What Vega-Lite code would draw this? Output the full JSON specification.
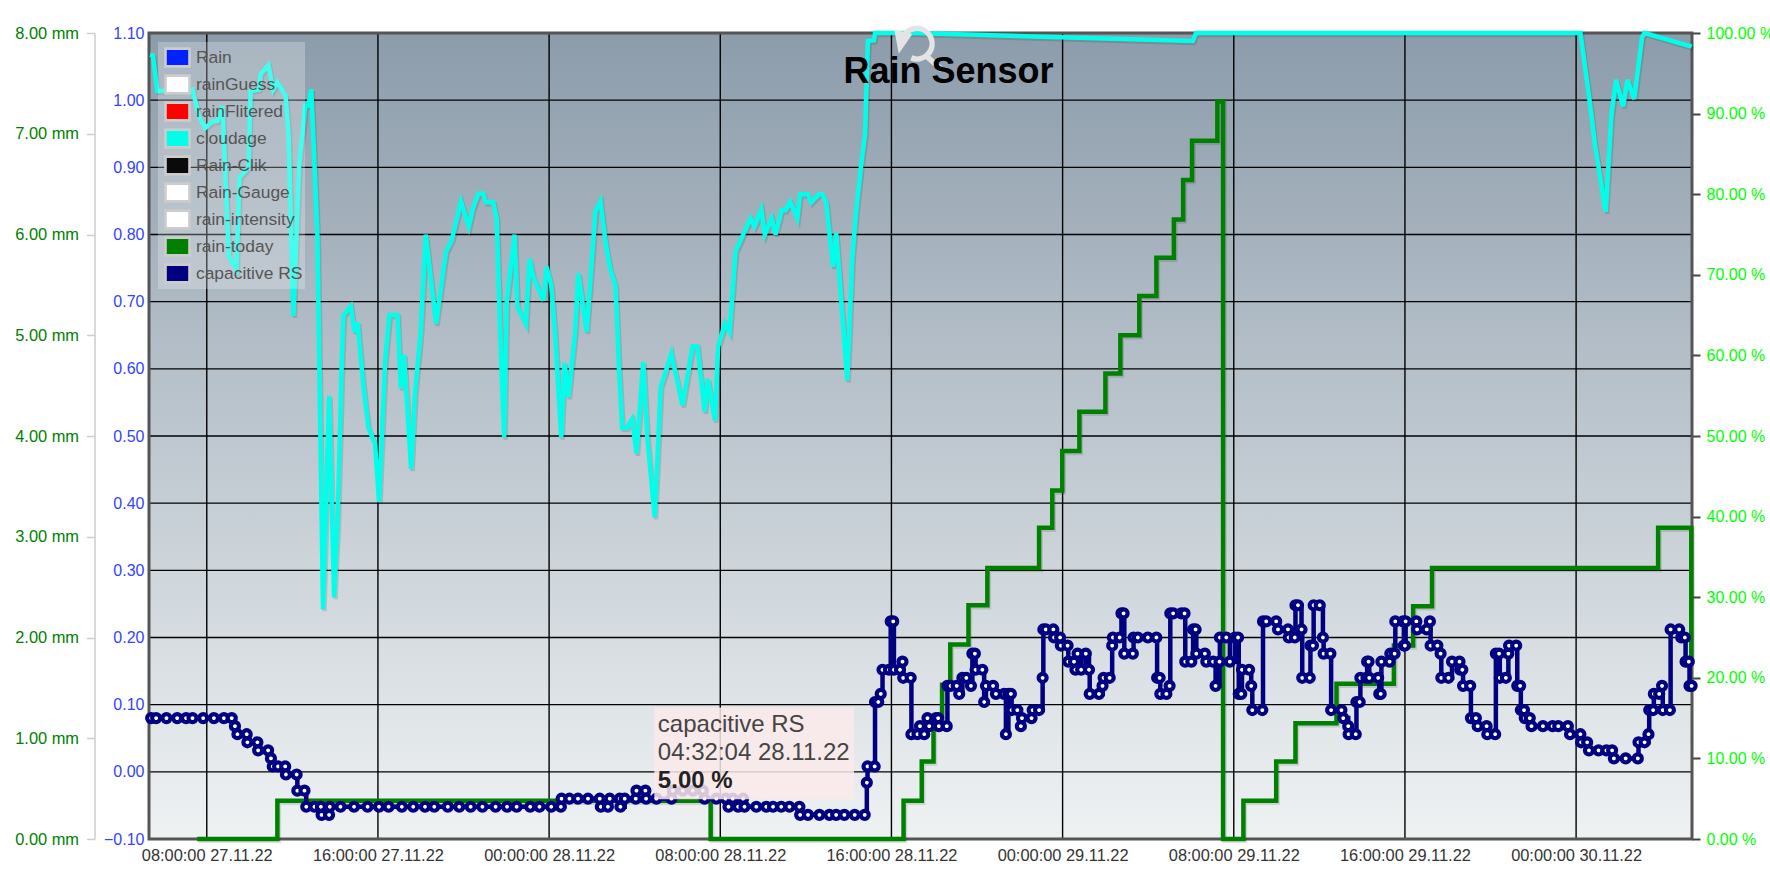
{"$schema":"https://vega.github.io/schema/vega-lite/v6.json","width":1543,"height":806,"autosize":{"type":"none"},"padding":{"left":149,"top":33,"right":78,"bottom":47},"background":"#ffffff","title":{"text":"Rain Sensor","fontSize":36,"font":"Liberation Sans","fontWeight":"bold","color":"#000000","anchor":"middle","offset":-102,"dx":28,"baseline":"alphabetic"},"config":{"font":"Liberation Sans","view":{"stroke":null}},"datasets":{
"plot":[{"t":"2022-11-27T05:18:00Z","t2":"2022-11-30T05:25:00Z","v":0,"v2":100}],
"gridx":[{"t":"2022-11-27T08:00:00Z"},{"t":"2022-11-27T16:00:00Z"},{"t":"2022-11-28T00:00:00Z"},{"t":"2022-11-28T08:00:00Z"},{"t":"2022-11-28T16:00:00Z"},{"t":"2022-11-29T00:00:00Z"},{"t":"2022-11-29T08:00:00Z"},{"t":"2022-11-29T16:00:00Z"},{"t":"2022-11-30T00:00:00Z"}],
"gridy":[{"v":0},{"v":0.1},{"v":0.2},{"v":0.3},{"v":0.4},{"v":0.5},{"v":0.6},{"v":0.7},{"v":0.8},{"v":0.9},{"v":1}],
"series":[{"t":"2022-11-27T08:00:00Z","series":"Rain"},{"t":"2022-11-27T08:00:00Z","series":"rainGuess"},{"t":"2022-11-27T08:00:00Z","series":"rainFlitered"},{"t":"2022-11-27T08:00:00Z","series":"cloudage"},{"t":"2022-11-27T08:00:00Z","series":"Rain-Clik"},{"t":"2022-11-27T08:00:00Z","series":"Rain-Gauge"},{"t":"2022-11-27T08:00:00Z","series":"rain-intensity"},{"t":"2022-11-27T08:00:00Z","series":"rain-today"},{"t":"2022-11-27T08:00:00Z","series":"capacitive RS"}],
"cloudage":[{"t":"2022-11-27T05:21Z","v":97.3},{"t":"2022-11-27T05:29Z","v":97.2},{"t":"2022-11-27T05:41Z","v":92.8},{"t":"2022-11-27T06:00Z","v":92.8},{"t":"2022-11-27T06:51Z","v":92.8},{"t":"2022-11-27T07:20Z","v":93},{"t":"2022-11-27T07:38Z","v":89.7},{"t":"2022-11-27T07:55Z","v":88.2},{"t":"2022-11-27T08:16Z","v":89},{"t":"2022-11-27T08:30Z","v":89.1},{"t":"2022-11-27T08:44Z","v":90.9},{"t":"2022-11-27T08:51Z","v":83.5},{"t":"2022-11-27T09:02Z","v":72.3},{"t":"2022-11-27T09:23Z","v":70.7},{"t":"2022-11-27T09:32Z","v":82.1},{"t":"2022-11-27T09:57Z","v":83.3},{"t":"2022-11-27T10:03Z","v":92.8},{"t":"2022-11-27T10:27Z","v":93},{"t":"2022-11-27T10:31Z","v":94.9},{"t":"2022-11-27T10:53Z","v":96},{"t":"2022-11-27T11:06Z","v":93},{"t":"2022-11-27T11:18Z","v":93.9},{"t":"2022-11-27T11:41Z","v":92.2},{"t":"2022-11-27T11:49Z","v":87.7},{"t":"2022-11-27T12:03Z","v":64.9},{"t":"2022-11-27T12:19Z","v":83.5},{"t":"2022-11-27T12:36Z","v":91},{"t":"2022-11-27T12:45Z","v":91},{"t":"2022-11-27T12:53Z","v":93},{"t":"2022-11-27T13:10Z","v":75.2},{"t":"2022-11-27T13:26Z","v":28.5},{"t":"2022-11-27T13:43Z","v":55},{"t":"2022-11-27T13:57Z","v":30},{"t":"2022-11-27T14:07Z","v":39.7},{"t":"2022-11-27T14:18Z","v":58.3},{"t":"2022-11-27T14:23Z","v":65},{"t":"2022-11-27T14:44Z","v":66.1},{"t":"2022-11-27T14:54Z","v":62.9},{"t":"2022-11-27T15:03Z","v":64.1},{"t":"2022-11-27T15:19Z","v":56.3},{"t":"2022-11-27T15:33Z","v":51.1},{"t":"2022-11-27T15:52Z","v":49},{"t":"2022-11-27T16:03Z","v":41.8},{"t":"2022-11-27T16:20Z","v":59.2},{"t":"2022-11-27T16:32Z","v":65},{"t":"2022-11-27T16:55Z","v":65},{"t":"2022-11-27T17:04Z","v":55.9},{"t":"2022-11-27T17:13Z","v":60.1},{"t":"2022-11-27T17:33Z","v":45.9},{"t":"2022-11-27T17:44Z","v":55.4},{"t":"2022-11-27T18:00Z","v":62.9},{"t":"2022-11-27T18:14Z","v":75},{"t":"2022-11-27T18:43Z","v":63.9},{"t":"2022-11-27T18:59Z","v":69.1},{"t":"2022-11-27T19:11Z","v":72.9},{"t":"2022-11-27T19:27Z","v":74.3},{"t":"2022-11-27T19:53Z","v":79.1},{"t":"2022-11-27T20:15Z","v":76},{"t":"2022-11-27T20:26Z","v":78.2},{"t":"2022-11-27T20:42Z","v":80.1},{"t":"2022-11-27T20:55Z","v":80.1},{"t":"2022-11-27T21:03Z","v":79},{"t":"2022-11-27T21:23Z","v":79},{"t":"2022-11-27T21:33Z","v":77},{"t":"2022-11-27T21:43Z","v":62.5},{"t":"2022-11-27T21:54Z","v":49.8},{"t":"2022-11-27T22:01Z","v":66.6},{"t":"2022-11-27T22:23Z","v":75},{"t":"2022-11-27T22:31Z","v":66},{"t":"2022-11-27T22:55Z","v":63.9},{"t":"2022-11-27T23:05Z","v":72},{"t":"2022-11-27T23:16Z","v":69.7},{"t":"2022-11-27T23:44Z","v":66.8},{"t":"2022-11-27T23:53Z","v":71},{"t":"2022-11-28T00:06Z","v":68.7},{"t":"2022-11-28T00:17Z","v":62.5},{"t":"2022-11-28T00:34Z","v":49.8},{"t":"2022-11-28T00:43Z","v":59.1},{"t":"2022-11-28T00:54Z","v":54.8},{"t":"2022-11-28T01:13Z","v":62.9},{"t":"2022-11-28T01:22Z","v":70.2},{"t":"2022-11-28T01:45Z","v":62.9},{"t":"2022-11-28T02:10Z","v":77.9},{"t":"2022-11-28T02:24Z","v":79.1},{"t":"2022-11-28T02:38Z","v":74.1},{"t":"2022-11-28T02:51Z","v":70.8},{"t":"2022-11-28T03:06Z","v":68.7},{"t":"2022-11-28T03:16Z","v":58.4},{"t":"2022-11-28T03:25Z","v":51},{"t":"2022-11-28T03:37Z","v":51},{"t":"2022-11-28T03:53Z","v":52.1},{"t":"2022-11-28T04:05Z","v":47.8},{"t":"2022-11-28T04:24Z","v":59.2},{"t":"2022-11-28T04:35Z","v":50.1},{"t":"2022-11-28T04:56Z","v":39.9},{"t":"2022-11-28T05:13Z","v":56.1},{"t":"2022-11-28T05:43Z","v":60.2},{"t":"2022-11-28T06:14Z","v":53.8},{"t":"2022-11-28T06:42Z","v":61.1},{"t":"2022-11-28T06:56Z","v":61.1},{"t":"2022-11-28T07:16Z","v":53},{"t":"2022-11-28T07:25Z","v":57.1},{"t":"2022-11-28T07:45Z","v":51.9},{"t":"2022-11-28T07:54Z","v":61.1},{"t":"2022-11-28T08:13Z","v":64},{"t":"2022-11-28T08:26Z","v":62.9},{"t":"2022-11-28T08:43Z","v":72.9},{"t":"2022-11-28T09:25Z","v":77},{"t":"2022-11-28T09:36Z","v":76},{"t":"2022-11-28T09:55Z","v":78.1},{"t":"2022-11-28T10:05Z","v":75},{"t":"2022-11-28T10:24Z","v":77},{"t":"2022-11-28T10:35Z","v":75},{"t":"2022-11-28T10:52Z","v":78},{"t":"2022-11-28T11:03Z","v":78},{"t":"2022-11-28T11:16Z","v":79.1},{"t":"2022-11-28T11:36Z","v":77},{"t":"2022-11-28T11:44Z","v":80},{"t":"2022-11-28T12:06Z","v":80},{"t":"2022-11-28T12:15Z","v":79},{"t":"2022-11-28T12:37Z","v":80},{"t":"2022-11-28T12:46Z","v":80},{"t":"2022-11-28T12:57Z","v":79},{"t":"2022-11-28T13:16Z","v":71},{"t":"2022-11-28T13:25Z","v":75.2},{"t":"2022-11-28T13:56Z","v":56.9},{"t":"2022-11-28T14:10Z","v":72},{"t":"2022-11-28T14:22Z","v":78.3},{"t":"2022-11-28T14:36Z","v":84},{"t":"2022-11-28T14:46Z","v":87.4},{"t":"2022-11-28T14:54Z","v":99},{"t":"2022-11-28T15:11Z","v":99.1},{"t":"2022-11-28T15:14Z","v":100},{"t":"2022-11-28T17:06Z","v":100},{"t":"2022-11-29T06:05Z","v":99},{"t":"2022-11-29T06:14Z","v":100},{"t":"2022-11-30T00:12Z","v":100},{"t":"2022-11-30T00:37Z","v":91.9},{"t":"2022-11-30T00:53Z","v":86.1},{"t":"2022-11-30T01:23Z","v":77.8},{"t":"2022-11-30T01:39Z","v":89.8},{"t":"2022-11-30T01:52Z","v":94.2},{"t":"2022-11-30T02:12Z","v":90.9},{"t":"2022-11-30T02:24Z","v":94.2},{"t":"2022-11-30T02:43Z","v":91.8},{"t":"2022-11-30T03:05Z","v":99.5},{"t":"2022-11-30T03:12Z","v":100},{"t":"2022-11-30T05:24Z","v":98.3}],
"today":[{"t":"2022-11-27T07:33Z","v":0},{"t":"2022-11-27T11:18Z","v":0.38},{"t":"2022-11-28T07:33Z","v":0},{"t":"2022-11-28T16:34Z","v":0.38},{"t":"2022-11-28T17:25Z","v":0.77},{"t":"2022-11-28T17:58Z","v":1.14},{"t":"2022-11-28T18:22Z","v":1.53},{"t":"2022-11-28T18:45Z","v":1.93},{"t":"2022-11-28T19:36Z","v":2.32},{"t":"2022-11-28T20:29Z","v":2.69},{"t":"2022-11-28T22:54Z","v":3.09},{"t":"2022-11-28T23:31Z","v":3.46},{"t":"2022-11-28T23:59Z","v":3.85},{"t":"2022-11-29T00:47Z","v":4.24},{"t":"2022-11-29T02:00Z","v":4.62},{"t":"2022-11-29T02:42Z","v":5},{"t":"2022-11-29T03:35Z","v":5.39},{"t":"2022-11-29T04:23Z","v":5.77},{"t":"2022-11-29T05:12Z","v":6.15},{"t":"2022-11-29T05:38Z","v":6.54},{"t":"2022-11-29T06:03Z","v":6.93},{"t":"2022-11-29T07:14Z","v":7.32},{"t":"2022-11-29T07:30Z","v":0},{"t":"2022-11-29T08:27Z","v":0.38},{"t":"2022-11-29T09:59Z","v":0.77},{"t":"2022-11-29T10:53Z","v":1.15},{"t":"2022-11-29T12:48Z","v":1.54},{"t":"2022-11-29T15:29Z","v":1.92},{"t":"2022-11-29T16:23Z","v":2.31},{"t":"2022-11-29T17:16Z","v":2.69},{"t":"2022-11-30T03:50Z","v":3.09},{"t":"2022-11-30T05:23Z","v":1.8}],
"cap":[{"t":"2022-11-27T05:24Z","v":15},{"t":"2022-11-27T05:38Z","v":15},{"t":"2022-11-27T06:07Z","v":15},{"t":"2022-11-27T06:37Z","v":15},{"t":"2022-11-27T07:02Z","v":15},{"t":"2022-11-27T07:20Z","v":15},{"t":"2022-11-27T07:50Z","v":15},{"t":"2022-11-27T08:20Z","v":15},{"t":"2022-11-27T08:48Z","v":15},{"t":"2022-11-27T09:10Z","v":15},{"t":"2022-11-27T09:19Z","v":14},{"t":"2022-11-27T09:26Z","v":13},{"t":"2022-11-27T09:52Z","v":13},{"t":"2022-11-27T09:54Z","v":12},{"t":"2022-11-27T10:22Z","v":12},{"t":"2022-11-27T10:24Z","v":11},{"t":"2022-11-27T10:52Z","v":11},{"t":"2022-11-27T11:00Z","v":10},{"t":"2022-11-27T11:05Z","v":9},{"t":"2022-11-27T11:20Z","v":9},{"t":"2022-11-27T11:40Z","v":9},{"t":"2022-11-27T11:42Z","v":8},{"t":"2022-11-27T12:12Z","v":8},{"t":"2022-11-27T12:14Z","v":6},{"t":"2022-11-27T12:34Z","v":6},{"t":"2022-11-27T12:39Z","v":4},{"t":"2022-11-27T13:02Z","v":4},{"t":"2022-11-27T13:20Z","v":4},{"t":"2022-11-27T13:22Z","v":3},{"t":"2022-11-27T13:43Z","v":3},{"t":"2022-11-27T13:45Z","v":4},{"t":"2022-11-27T14:15Z","v":4},{"t":"2022-11-27T14:53Z","v":4},{"t":"2022-11-27T15:31Z","v":4},{"t":"2022-11-27T16:03Z","v":4},{"t":"2022-11-27T16:30Z","v":4},{"t":"2022-11-27T17:07Z","v":4},{"t":"2022-11-27T17:39Z","v":4},{"t":"2022-11-27T18:12Z","v":4},{"t":"2022-11-27T18:38Z","v":4},{"t":"2022-11-27T19:16Z","v":4},{"t":"2022-11-27T19:48Z","v":4},{"t":"2022-11-27T20:20Z","v":4},{"t":"2022-11-27T20:53Z","v":4},{"t":"2022-11-27T21:30Z","v":4},{"t":"2022-11-27T22:02Z","v":4},{"t":"2022-11-27T22:29Z","v":4},{"t":"2022-11-27T23:07Z","v":4},{"t":"2022-11-27T23:33Z","v":4},{"t":"2022-11-28T00:06Z","v":4},{"t":"2022-11-28T00:33Z","v":4},{"t":"2022-11-28T00:35Z","v":5},{"t":"2022-11-28T00:57Z","v":5},{"t":"2022-11-28T01:21Z","v":5},{"t":"2022-11-28T01:49Z","v":5},{"t":"2022-11-28T02:22Z","v":5},{"t":"2022-11-28T02:25Z","v":4},{"t":"2022-11-28T02:45Z","v":4},{"t":"2022-11-28T02:50Z","v":5},{"t":"2022-11-28T03:18Z","v":5},{"t":"2022-11-28T03:20Z","v":4},{"t":"2022-11-28T03:32Z","v":5},{"t":"2022-11-28T04:03Z","v":5},{"t":"2022-11-28T04:05Z","v":6},{"t":"2022-11-28T04:30Z","v":6},{"t":"2022-11-28T04:32Z","v":5},{"t":"2022-11-28T05:01Z","v":5},{"t":"2022-11-28T05:43Z","v":5},{"t":"2022-11-28T05:47Z","v":6},{"t":"2022-11-28T06:15Z","v":6},{"t":"2022-11-28T06:43Z","v":6},{"t":"2022-11-28T07:11Z","v":6},{"t":"2022-11-28T07:16Z","v":5},{"t":"2022-11-28T07:49Z","v":5},{"t":"2022-11-28T08:15Z","v":5},{"t":"2022-11-28T08:23Z","v":4},{"t":"2022-11-28T08:35Z","v":5},{"t":"2022-11-28T08:50Z","v":4},{"t":"2022-11-28T09:04Z","v":5},{"t":"2022-11-28T09:08Z","v":4},{"t":"2022-11-28T09:41Z","v":4},{"t":"2022-11-28T10:09Z","v":4},{"t":"2022-11-28T10:28Z","v":4},{"t":"2022-11-28T10:51Z","v":4},{"t":"2022-11-28T11:14Z","v":4},{"t":"2022-11-28T11:42Z","v":4},{"t":"2022-11-28T11:44Z","v":3},{"t":"2022-11-28T12:06Z","v":3},{"t":"2022-11-28T12:38Z","v":3},{"t":"2022-11-28T13:06Z","v":3},{"t":"2022-11-28T13:25Z","v":3},{"t":"2022-11-28T13:48Z","v":3},{"t":"2022-11-28T14:17Z","v":3},{"t":"2022-11-28T14:45Z","v":3},{"t":"2022-11-28T14:51Z","v":7},{"t":"2022-11-28T14:53Z","v":9},{"t":"2022-11-28T15:13Z","v":9},{"t":"2022-11-28T15:14Z","v":17},{"t":"2022-11-28T15:23Z","v":17},{"t":"2022-11-28T15:30Z","v":18},{"t":"2022-11-28T15:35Z","v":21},{"t":"2022-11-28T15:53Z","v":21},{"t":"2022-11-28T15:58Z","v":27},{"t":"2022-11-28T16:05Z","v":27},{"t":"2022-11-28T16:07Z","v":21},{"t":"2022-11-28T16:24Z","v":21},{"t":"2022-11-28T16:31Z","v":22},{"t":"2022-11-28T16:33Z","v":20},{"t":"2022-11-28T16:54Z","v":20},{"t":"2022-11-28T16:56Z","v":13},{"t":"2022-11-28T17:13Z","v":13},{"t":"2022-11-28T17:20Z","v":14},{"t":"2022-11-28T17:32Z","v":13},{"t":"2022-11-28T17:41Z","v":15},{"t":"2022-11-28T17:46Z","v":14},{"t":"2022-11-28T18:05Z","v":15},{"t":"2022-11-28T18:11Z","v":15},{"t":"2022-11-28T18:13Z","v":14},{"t":"2022-11-28T18:35Z","v":14},{"t":"2022-11-28T18:37Z","v":19},{"t":"2022-11-28T18:46Z","v":19},{"t":"2022-11-28T19:03Z","v":19},{"t":"2022-11-28T19:10Z","v":18},{"t":"2022-11-28T19:19Z","v":20},{"t":"2022-11-28T19:30Z","v":20},{"t":"2022-11-28T19:43Z","v":19},{"t":"2022-11-28T19:47Z","v":23},{"t":"2022-11-28T19:54Z","v":23},{"t":"2022-11-28T19:56Z","v":21},{"t":"2022-11-28T20:15Z","v":21},{"t":"2022-11-28T20:20Z","v":17},{"t":"2022-11-28T20:25Z","v":19},{"t":"2022-11-28T20:45Z","v":19},{"t":"2022-11-28T20:53Z","v":18},{"t":"2022-11-28T21:16Z","v":18},{"t":"2022-11-28T21:21Z","v":13},{"t":"2022-11-28T21:28Z","v":18},{"t":"2022-11-28T21:35Z","v":18},{"t":"2022-11-28T21:37Z","v":16},{"t":"2022-11-28T21:53Z","v":16},{"t":"2022-11-28T22:03Z","v":14},{"t":"2022-11-28T22:06Z","v":15},{"t":"2022-11-28T22:33Z","v":15},{"t":"2022-11-28T22:36Z","v":16},{"t":"2022-11-28T22:54Z","v":16},{"t":"2022-11-28T23:04Z","v":20},{"t":"2022-11-28T23:06Z","v":26},{"t":"2022-11-28T23:13Z","v":26},{"t":"2022-11-28T23:34Z","v":26},{"t":"2022-11-28T23:36Z","v":25},{"t":"2022-11-28T23:53Z","v":25},{"t":"2022-11-28T23:55Z","v":24},{"t":"2022-11-29T00:14Z","v":24},{"t":"2022-11-29T00:16Z","v":22},{"t":"2022-11-29T00:32Z","v":22},{"t":"2022-11-29T00:36Z","v":21},{"t":"2022-11-29T00:42Z","v":23},{"t":"2022-11-29T00:52Z","v":21},{"t":"2022-11-29T01:05Z","v":23},{"t":"2022-11-29T01:14Z","v":21},{"t":"2022-11-29T01:16Z","v":18},{"t":"2022-11-29T01:42Z","v":18},{"t":"2022-11-29T01:52Z","v":19},{"t":"2022-11-29T01:55Z","v":20},{"t":"2022-11-29T02:12Z","v":20},{"t":"2022-11-29T02:19Z","v":24},{"t":"2022-11-29T02:21Z","v":25},{"t":"2022-11-29T02:40Z","v":25},{"t":"2022-11-29T02:45Z","v":28},{"t":"2022-11-29T02:51Z","v":28},{"t":"2022-11-29T02:53Z","v":23},{"t":"2022-11-29T03:17Z","v":23},{"t":"2022-11-29T03:19Z","v":25},{"t":"2022-11-29T03:31Z","v":25},{"t":"2022-11-29T03:59Z","v":25},{"t":"2022-11-29T04:23Z","v":25},{"t":"2022-11-29T04:25Z","v":20},{"t":"2022-11-29T04:32Z","v":20},{"t":"2022-11-29T04:34Z","v":18},{"t":"2022-11-29T04:51Z","v":18},{"t":"2022-11-29T05:00Z","v":19},{"t":"2022-11-29T05:02Z","v":28},{"t":"2022-11-29T05:10Z","v":28},{"t":"2022-11-29T05:33Z","v":28},{"t":"2022-11-29T05:42Z","v":28},{"t":"2022-11-29T05:44Z","v":22},{"t":"2022-11-29T06:01Z","v":22},{"t":"2022-11-29T06:06Z","v":26},{"t":"2022-11-29T06:13Z","v":26},{"t":"2022-11-29T06:15Z","v":23},{"t":"2022-11-29T06:39Z","v":23},{"t":"2022-11-29T06:43Z","v":22},{"t":"2022-11-29T07:02Z","v":22},{"t":"2022-11-29T07:09Z","v":19},{"t":"2022-11-29T07:20Z","v":22},{"t":"2022-11-29T07:21Z","v":25},{"t":"2022-11-29T07:39Z","v":25},{"t":"2022-11-29T07:49Z","v":22},{"t":"2022-11-29T08:03Z","v":25},{"t":"2022-11-29T08:12Z","v":25},{"t":"2022-11-29T08:14Z","v":18},{"t":"2022-11-29T08:21Z","v":18},{"t":"2022-11-29T08:23Z","v":21},{"t":"2022-11-29T08:43Z","v":21},{"t":"2022-11-29T08:49Z","v":19},{"t":"2022-11-29T08:52Z","v":16},{"t":"2022-11-29T09:20Z","v":16},{"t":"2022-11-29T09:22Z","v":27},{"t":"2022-11-29T09:31Z","v":27},{"t":"2022-11-29T09:59Z","v":27},{"t":"2022-11-29T10:04Z","v":26},{"t":"2022-11-29T10:32Z","v":26},{"t":"2022-11-29T10:34Z","v":25},{"t":"2022-11-29T10:51Z","v":25},{"t":"2022-11-29T10:53Z","v":29},{"t":"2022-11-29T11:00Z","v":29},{"t":"2022-11-29T11:10Z","v":26},{"t":"2022-11-29T11:12Z","v":20},{"t":"2022-11-29T11:33Z","v":20},{"t":"2022-11-29T11:35Z","v":24},{"t":"2022-11-29T11:42Z","v":24},{"t":"2022-11-29T11:44Z","v":29},{"t":"2022-11-29T12:01Z","v":29},{"t":"2022-11-29T12:10Z","v":25},{"t":"2022-11-29T12:12Z","v":23},{"t":"2022-11-29T12:31Z","v":23},{"t":"2022-11-29T12:33Z","v":16},{"t":"2022-11-29T13:02Z","v":16},{"t":"2022-11-29T13:07Z","v":15},{"t":"2022-11-29T13:21Z","v":14},{"t":"2022-11-29T13:22Z","v":13},{"t":"2022-11-29T13:42Z","v":13},{"t":"2022-11-29T13:44Z","v":17},{"t":"2022-11-29T13:53Z","v":17},{"t":"2022-11-29T13:55Z","v":20},{"t":"2022-11-29T14:12Z","v":20},{"t":"2022-11-29T14:14Z","v":22},{"t":"2022-11-29T14:18Z","v":22},{"t":"2022-11-29T14:20Z","v":20},{"t":"2022-11-29T14:45Z","v":20},{"t":"2022-11-29T14:48Z","v":18},{"t":"2022-11-29T14:52Z","v":18},{"t":"2022-11-29T14:54Z","v":22},{"t":"2022-11-29T15:17Z","v":22},{"t":"2022-11-29T15:19Z","v":23},{"t":"2022-11-29T15:31Z","v":23},{"t":"2022-11-29T15:33Z","v":27},{"t":"2022-11-29T15:55Z","v":27},{"t":"2022-11-29T15:57Z","v":24},{"t":"2022-11-29T16:00Z","v":24},{"t":"2022-11-29T16:02Z","v":27},{"t":"2022-11-29T16:32Z","v":27},{"t":"2022-11-29T16:34Z","v":26},{"t":"2022-11-29T17:01Z","v":26},{"t":"2022-11-29T17:10Z","v":27},{"t":"2022-11-29T17:12Z","v":24},{"t":"2022-11-29T17:31Z","v":24},{"t":"2022-11-29T17:40Z","v":23},{"t":"2022-11-29T17:42Z","v":20},{"t":"2022-11-29T18:02Z","v":20},{"t":"2022-11-29T18:12Z","v":22},{"t":"2022-11-29T18:33Z","v":22},{"t":"2022-11-29T18:35Z","v":21},{"t":"2022-11-29T18:41Z","v":21},{"t":"2022-11-29T18:43Z","v":19},{"t":"2022-11-29T19:03Z","v":19},{"t":"2022-11-29T19:05Z","v":15},{"t":"2022-11-29T19:19Z","v":15},{"t":"2022-11-29T19:24Z","v":14},{"t":"2022-11-29T19:49Z","v":14},{"t":"2022-11-29T19:51Z","v":13},{"t":"2022-11-29T20:13Z","v":13},{"t":"2022-11-29T20:15Z","v":23},{"t":"2022-11-29T20:24Z","v":23},{"t":"2022-11-29T20:26Z","v":20},{"t":"2022-11-29T20:43Z","v":20},{"t":"2022-11-29T20:50Z","v":23},{"t":"2022-11-29T20:52Z","v":24},{"t":"2022-11-29T21:12Z","v":24},{"t":"2022-11-29T21:15Z","v":19},{"t":"2022-11-29T21:23Z","v":19},{"t":"2022-11-29T21:25Z","v":16},{"t":"2022-11-29T21:34Z","v":16},{"t":"2022-11-29T21:36Z","v":15},{"t":"2022-11-29T21:50Z","v":15},{"t":"2022-11-29T21:55Z","v":14},{"t":"2022-11-29T22:27Z","v":14},{"t":"2022-11-29T22:54Z","v":14},{"t":"2022-11-29T23:10Z","v":14},{"t":"2022-11-29T23:37Z","v":14},{"t":"2022-11-29T23:43Z","v":13},{"t":"2022-11-30T00:12Z","v":13},{"t":"2022-11-30T00:14Z","v":12},{"t":"2022-11-30T00:31Z","v":12},{"t":"2022-11-30T00:36Z","v":11},{"t":"2022-11-30T01:03Z","v":11},{"t":"2022-11-30T01:25Z","v":11},{"t":"2022-11-30T01:41Z","v":11},{"t":"2022-11-30T01:46Z","v":10},{"t":"2022-11-30T02:19Z","v":10},{"t":"2022-11-30T02:53Z","v":10},{"t":"2022-11-30T02:55Z","v":12},{"t":"2022-11-30T03:12Z","v":12},{"t":"2022-11-30T03:23Z","v":13},{"t":"2022-11-30T03:25Z","v":16},{"t":"2022-11-30T03:36Z","v":16},{"t":"2022-11-30T03:38Z","v":18},{"t":"2022-11-30T03:53Z","v":18},{"t":"2022-11-30T04:01Z","v":19},{"t":"2022-11-30T04:03Z","v":16},{"t":"2022-11-30T04:23Z","v":16},{"t":"2022-11-30T04:25Z","v":26},{"t":"2022-11-30T04:49Z","v":26},{"t":"2022-11-30T04:55Z","v":25},{"t":"2022-11-30T05:05Z","v":25},{"t":"2022-11-30T05:07Z","v":22},{"t":"2022-11-30T05:16Z","v":22},{"t":"2022-11-30T05:18Z","v":19},{"t":"2022-11-30T05:24Z","v":19}]
},
"layer":[
{"data":{"name":"plot"},"mark":{"type":"rect","color":{"gradient":"linear","x1":0,"y1":0,"x2":0,"y2":1,"stops":[{"offset":0,"color":"#8c9cab"},{"offset":1,"color":"#eff2f3"}]}},"encoding":{"x":{"field":"t","type":"temporal","title":null,"scale":{"type":"utc","domain":[{"year":2022,"month":11,"date":27,"hours":5,"minutes":18,"utc":true},{"year":2022,"month":11,"date":30,"hours":5,"minutes":25,"utc":true}]},"axis":{"format":"%H:%M:%S %d.%m.%y","values":[{"year":2022,"month":11,"date":27,"hours":8,"utc":true},{"year":2022,"month":11,"date":27,"hours":16,"utc":true},{"year":2022,"month":11,"date":28,"hours":0,"utc":true},{"year":2022,"month":11,"date":28,"hours":8,"utc":true},{"year":2022,"month":11,"date":28,"hours":16,"utc":true},{"year":2022,"month":11,"date":29,"hours":0,"utc":true},{"year":2022,"month":11,"date":29,"hours":8,"utc":true},{"year":2022,"month":11,"date":29,"hours":16,"utc":true},{"year":2022,"month":11,"date":30,"hours":0,"utc":true}],"grid":false,"domain":false,"ticks":false,"labelFontSize":16.4,"labelFont":"Liberation Sans","labelColor":"#333333","labelPadding":8,"labelOverlap":false,"labelFlush":false,"title":null}},"x2":{"field":"t2"},"y":{"field":"v","type":"quantitative","title":null,"scale":{"domain":[0,100],"nice":false,"zero":false},"axis":null},"y2":{"field":"v2"}}},
{"data":{"name":"gridx"},"mark":{"type":"rule","color":"#000000","strokeWidth":1.4},"encoding":{"x":{"field":"t","type":"temporal"}}},
{"data":{"name":"gridy"},"mark":{"type":"rule","color":"#000000","strokeWidth":1.4},"encoding":{"y":{"field":"v","type":"quantitative","title":null,"scale":{"domain":[-0.1,1.1],"nice":false,"zero":false},"axis":{"orient":"left","values":[-0.1,0,0.1,0.2,0.3,0.4,0.5,0.6,0.7,0.8,0.9,1,1.1],"format":".2f","grid":false,"domain":false,"ticks":false,"labelFontSize":16,"labelFont":"Liberation Sans","labelColor":"#3344ff","labelPadding":5,"labelOverlap":false,"labelFlush":false,"title":null}}}},
{"data":{"name":"plot"},"mark":{"type":"rect","fill":null,"fillOpacity":0,"stroke":"#555555","strokeWidth":3},"encoding":{"x":{"field":"t","type":"temporal"},"x2":{"field":"t2"},"y":{"field":"v","type":"quantitative","title":null,"scale":{"domain":[0,100],"nice":false,"zero":false},"axis":null},"y2":{"field":"v2"}}},
{"data":{"name":"today"},"mark":{"type":"line","interpolate":"step-after","color":"#000000","opacity":0.12,"strokeWidth":4.5,"xOffset":1.5,"yOffset":2},"encoding":{"x":{"field":"t","type":"temporal"},"y":{"field":"v","type":"quantitative","title":null,"scale":{"domain":[0,8],"nice":false,"zero":false},"axis":null}}},
{"data":{"name":"today"},"mark":{"type":"line","interpolate":"step-after","color":"#008000","strokeWidth":4.5},"encoding":{"x":{"field":"t","type":"temporal"},"y":{"field":"v","type":"quantitative","title":null,"scale":{"domain":[0,8],"nice":false,"zero":false},"axis":{"orient":"left","offset":54.5,"values":[0,1,2,3,4,5,6,7,8],"labelExpr":"format(datum.value,'.2f')+' mm'","grid":false,"domain":true,"domainColor":"#cccccc","domainWidth":1.5,"ticks":true,"tickColor":"#cccccc","tickSize":8,"tickWidth":1.5,"labelFontSize":16.4,"labelFont":"Liberation Sans","labelColor":"#008000","labelPadding":8,"labelOverlap":false,"labelFlush":false,"title":null}}}},
{"data":{"name":"cloudage"},"mark":{"type":"line","color":"#000000","opacity":0.12,"strokeWidth":4.5,"xOffset":1.5,"yOffset":2},"encoding":{"x":{"field":"t","type":"temporal"},"y":{"field":"v","type":"quantitative","title":null,"scale":{"domain":[0,100],"nice":false,"zero":false},"axis":null}}},
{"data":{"name":"cloudage"},"mark":{"type":"line","color":"#00ffea","strokeWidth":4.5},"encoding":{"x":{"field":"t","type":"temporal"},"y":{"field":"v","type":"quantitative","title":null,"scale":{"domain":[0,100],"nice":false,"zero":false},"axis":{"orient":"right","values":[0,10,20,30,40,50,60,70,80,90,100],"labelExpr":"format(datum.value,'.2f')+' %'","grid":false,"domain":false,"ticks":true,"tickColor":"#444444","tickSize":8,"tickWidth":2,"labelFontSize":16,"labelFont":"Liberation Sans","labelColor":"#00ff00","labelPadding":6,"labelOverlap":false,"labelFlush":false,"title":null}}}},
{"data":{"name":"cap"},"mark":{"type":"line","interpolate":"step-after","color":"#000080","strokeWidth":4.5},"encoding":{"x":{"field":"t","type":"temporal"},"y":{"field":"v","type":"quantitative","title":null,"scale":{"domain":[0,100],"nice":false,"zero":false},"axis":null}}},
{"data":{"name":"cap"},"mark":{"type":"point","filled":true,"fill":"#ffffff","stroke":"#000080","strokeWidth":4.2,"size":64,"opacity":1},"encoding":{"x":{"field":"t","type":"temporal"},"y":{"field":"v","type":"quantitative","title":null,"scale":{"domain":[0,100],"nice":false,"zero":false},"axis":null}}},
{"data":{"name":"series"},"mark":{"type":"point","filled":true,"opacity":0},"encoding":{"x":{"field":"t","type":"temporal"},"color":{"field":"series","type":"nominal","title":null,"scale":{"domain":["Rain","rainGuess","rainFlitered","cloudage","Rain-Clik","Rain-Gauge","rain-intensity","rain-today","capacitive RS"],"range":["#0022ff","#ffffff","#ff0000","#00ffea","#0a0a0a","#ffffff","#ffffff","#008000","#000080"]},"legend":{"orient":"none","legendX":9,"legendY":9,"fillColor":"rgba(255,255,255,0.25)","padding":2,"rowPadding":0,"clipHeight":27,"symbolType":"M-1,-0.74H1V0.74H-1Z","symbolSize":576,"symbolStrokeColor":"#cccccc","symbolStrokeWidth":2.6,"symbolOpacity":1,"symbolOffset":4,"labelFontSize":17.4,"labelFont":"Liberation Sans","labelColor":"#555555","labelOffset":5,"labelLimit":300,"title":null}}}},
{"data":{"values":[{"t":"2022-11-28T04:55Z","t2":"2022-11-28T14:15Z","v":16.3,"v2":4.94}]},"mark":{"type":"rect","color":"#fbeaea","opacity":0.85},"encoding":{"x":{"field":"t","type":"temporal"},"x2":{"field":"t2"},"y":{"field":"v","type":"quantitative","title":null,"scale":{"domain":[0,100],"nice":false,"zero":false},"axis":null},"y2":{"field":"v2"}}},
{"data":{"values":[{"t":"2022-11-28T05:05Z","v":13.3,"label":"capacitive RS"},{"t":"2022-11-28T05:05Z","v":9.83,"label":"04:32:04 28.11.22"}]},"mark":{"type":"text","align":"left","baseline":"alphabetic","fontSize":24,"font":"Liberation Sans","color":"#444444"},"encoding":{"x":{"field":"t","type":"temporal"},"text":{"field":"label"},"y":{"field":"v","type":"quantitative","title":null,"scale":{"domain":[0,100],"nice":false,"zero":false},"axis":null}}},
{"data":{"values":[{"t":"2022-11-28T05:05Z","v":6.34,"label":"5.00 %"}]},"mark":{"type":"text","align":"left","baseline":"alphabetic","fontSize":24,"font":"Liberation Sans","fontWeight":"bold","color":"#222222"},"encoding":{"x":{"field":"t","type":"temporal"},"text":{"field":"label"},"y":{"field":"v","type":"quantitative","title":null,"scale":{"domain":[0,100],"nice":false,"zero":false},"axis":null}}},
{"data":{"values":[{"t":"2022-11-28T17:10Z","v":98.7}]},"mark":{"type":"point","shape":"M-0.85,-0.2A0.9,0.9 0 1 1 -0.3,0.85M0.6,0.75L1.5,1.55M-1.1,-0.6L-0.5,-0.45L-0.95,0.2Z","size":1156,"stroke":"#e4e4e4","strokeWidth":5.5,"fillOpacity":0,"opacity":1},"encoding":{"x":{"field":"t","type":"temporal"},"y":{"field":"v","type":"quantitative","title":null,"scale":{"domain":[0,100],"nice":false,"zero":false},"axis":null}}}
],"resolve":{"scale":{"y":"independent"},"axis":{"y":"independent"}}}
